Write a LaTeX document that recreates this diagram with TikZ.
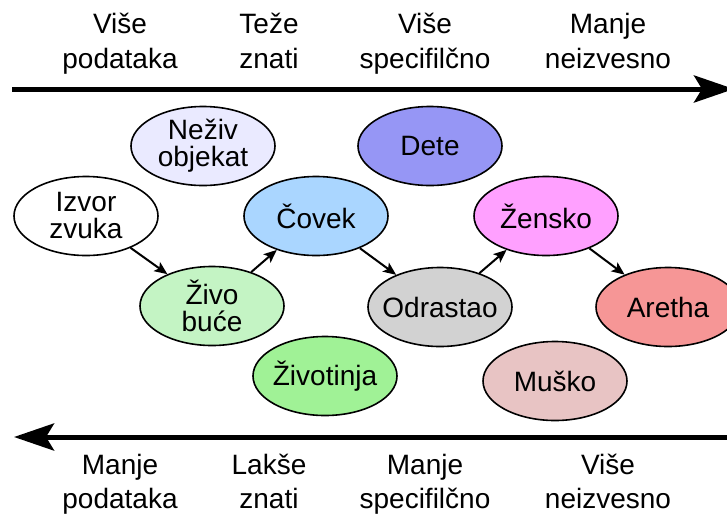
\documentclass[tikz,border=0pt]{standalone}
\usepackage{fontspec}
\setmainfont{Liberation Sans}
\usetikzlibrary{shapes.geometric,arrows.meta}
\definecolor{cNeziv}{RGB}{234,234,255}
\definecolor{cIzvor}{RGB}{255,255,255}
\definecolor{cZivo}{RGB}{196,244,196}
\definecolor{cCovek}{RGB}{170,214,255}
\definecolor{cZivot}{RGB}{160,242,150}
\definecolor{cDete}{RGB}{150,150,245}
\definecolor{cOdr}{RGB}{210,210,210}
\definecolor{cZensko}{RGB}{255,160,255}
\definecolor{cAretha}{RGB}{246,150,150}
\definecolor{cMusko}{RGB}{232,196,196}
\begin{document}
\begin{tikzpicture}[x=1pt,y=-1pt,
  concept/.style={ellipse,draw=black,line width=1.6pt,minimum width=144pt,minimum height=79pt,inner sep=0pt},
  ctext/.style={inner sep=0pt,align=center,font=\fontsize{28}{27}\selectfont},
  lbl/.style={anchor=base,inner sep=0pt,font=\fontsize{28}{34}\selectfont},
  link/.style={line width=2pt,-{Stealth[length=13pt,width=11pt,inset=3pt]}},
  axis/.style={line width=5pt,-{Stealth[length=40pt,width=27pt,inset=8pt]}}]
\useasboundingbox (0,0) rectangle (727,514);
% axes
\coordinate (tl) at (12,89);
\coordinate (tr) at (734,89);
\coordinate (br) at (740,437);
\coordinate (bl) at (14,437);
\draw[axis] (tl) -- (tr);
\draw[axis] (br) -- (bl);
% top labels
\node[lbl] (t1a) at (120,33) {Više};
\node[lbl] (t1b) at (120,68) {podataka};
\node[lbl] (t2a) at (269,33) {Teže};
\node[lbl] (t2b) at (269,68) {znati};
\node[lbl] (t3a) at (425,33) {Više};
\node[lbl] (t3b) at (425,68) {specifilčno};
\node[lbl] (t4a) at (608,33) {Manje};
\node[lbl] (t4b) at (608,68) {neizvesno};
% bottom labels
\node[lbl] (b1a) at (120,474) {Manje};
\node[lbl] (b1b) at (120,508) {podataka};
\node[lbl] (b2a) at (269,474) {Lakše};
\node[lbl] (b2b) at (269,508) {znati};
\node[lbl] (b3a) at (425,474) {Manje};
\node[lbl] (b3b) at (425,508) {specifilčno};
\node[lbl] (b4a) at (608,474) {Više};
\node[lbl] (b4b) at (608,508) {neizvesno};
% concepts
\node[concept,fill=cNeziv,label={[ctext]center:Neživ\\objekat}] (neziv) at (203,146) {};
\node[concept,fill=cIzvor,label={[ctext]center:Izvor\\zvuka}] (izvor) at (86,216) {};
\node[concept,fill=cDete,label={[ctext]center:Dete}] (dete) at (430,146) {};
\node[concept,fill=cCovek,label={[ctext]center:Čovek}] (covek) at (316,216) {};
\node[concept,fill=cZivo,label={[ctext]center:Živo\\buće}] (zivo) at (212,306) {};
\node[concept,fill=cZivot,label={[ctext]center:Životinja}] (zivot) at (325,376) {};
\node[concept,fill=cOdr,label={[ctext]center:Odrastao}] (odr) at (440,307) {};
\node[concept,fill=cZensko,label={[ctext]center:Žensko}] (zensko) at (546,216) {};
\node[concept,fill=cAretha,label={[ctext]center:Aretha}] (aretha) at (668,307) {};
\node[concept,fill=cMusko,label={[ctext]center:Muško}] (musko) at (555,381) {};
% links
\draw[link] (izvor) -- (zivo);
\draw[link] (zivo) -- (covek);
\draw[link] (covek) -- (odr);
\draw[link] (odr) -- (zensko);
\draw[link] (zensko) -- (aretha);
\end{tikzpicture}
\end{document}
